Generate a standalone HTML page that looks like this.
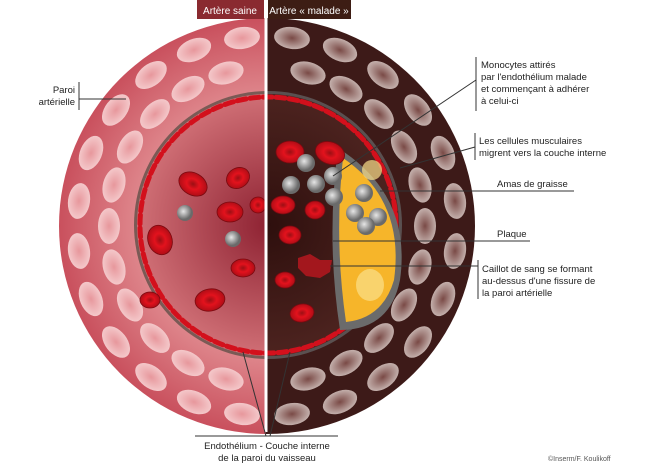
<!DOCTYPE html>
<html><head><meta charset="utf-8"><style>
body{margin:0;background:#fff;}
svg{display:block;font-family:"Liberation Sans",sans-serif;}
</style></head><body>
<svg width="650" height="464" viewBox="0 0 650 464" xmlns="http://www.w3.org/2000/svg" xmlns:xlink="http://www.w3.org/1999/xlink">
<defs>
<radialGradient id="ringL" cx="267" cy="226" r="208" gradientUnits="userSpaceOnUse">
<stop offset="0.6" stop-color="#e08a8f"/><stop offset="1" stop-color="#c9505d"/></radialGradient>
<radialGradient id="lumL" cx="268" cy="225" r="135" gradientUnits="userSpaceOnUse">
<stop offset="0" stop-color="#8e2232"/><stop offset="1" stop-color="#d27278"/></radialGradient>
<radialGradient id="lumR" cx="268" cy="225" r="135" gradientUnits="userSpaceOnUse">
<stop offset="0" stop-color="#2e0f0d"/><stop offset="1" stop-color="#4e2420"/></radialGradient>
<radialGradient id="cellL"><stop offset="0" stop-color="#e7979c"/><stop offset="1" stop-color="#f4c8ca"/></radialGradient>
<radialGradient id="cellR"><stop offset="0" stop-color="#7a4a46"/><stop offset="1" stop-color="#c4b0ac"/></radialGradient>
<radialGradient id="mono" cx="0.4" cy="0.4"><stop offset="0" stop-color="#e6e6e6"/><stop offset="1" stop-color="#6a6a6a"/></radialGradient>
<radialGradient id="rbc"><stop offset="0" stop-color="#9c0f14"/><stop offset="0.45" stop-color="#e3121d"/><stop offset="1" stop-color="#b00d16"/></radialGradient>
<clipPath id="cl"><rect x="0" y="0" width="266" height="464"/></clipPath>
<clipPath id="cr"><rect x="266" y="0" width="400" height="464"/></clipPath>
<g id="cells">
<ellipse cx="425" cy="226" rx="18" ry="11" transform="rotate(90 425 226)"/>
<ellipse cx="420" cy="267" rx="18" ry="11" transform="rotate(105 420 267)"/>
<ellipse cx="404" cy="305" rx="18" ry="11" transform="rotate(120 404 305)"/>
<ellipse cx="379" cy="338" rx="18" ry="11" transform="rotate(135 379 338)"/>
<ellipse cx="346" cy="363" rx="18" ry="11" transform="rotate(150 346 363)"/>
<ellipse cx="308" cy="379" rx="18" ry="11" transform="rotate(165 308 379)"/>
<ellipse cx="226" cy="379" rx="18" ry="11" transform="rotate(195 226 379)"/>
<ellipse cx="188" cy="363" rx="18" ry="11" transform="rotate(210 188 363)"/>
<ellipse cx="155" cy="338" rx="18" ry="11" transform="rotate(225 155 338)"/>
<ellipse cx="130" cy="305" rx="18" ry="11" transform="rotate(240 130 305)"/>
<ellipse cx="114" cy="267" rx="18" ry="11" transform="rotate(255 114 267)"/>
<ellipse cx="109" cy="226" rx="18" ry="11" transform="rotate(270 109 226)"/>
<ellipse cx="114" cy="185" rx="18" ry="11" transform="rotate(285 114 185)"/>
<ellipse cx="130" cy="147" rx="18" ry="11" transform="rotate(300 130 147)"/>
<ellipse cx="155" cy="114" rx="18" ry="11" transform="rotate(315 155 114)"/>
<ellipse cx="188" cy="89" rx="18" ry="11" transform="rotate(330 188 89)"/>
<ellipse cx="226" cy="73" rx="18" ry="11" transform="rotate(345 226 73)"/>
<ellipse cx="308" cy="73" rx="18" ry="11" transform="rotate(15 308 73)"/>
<ellipse cx="346" cy="89" rx="18" ry="11" transform="rotate(30 346 89)"/>
<ellipse cx="379" cy="114" rx="18" ry="11" transform="rotate(45 379 114)"/>
<ellipse cx="404" cy="147" rx="18" ry="11" transform="rotate(60 404 147)"/>
<ellipse cx="420" cy="185" rx="18" ry="11" transform="rotate(75 420 185)"/>
<ellipse cx="455" cy="251" rx="18" ry="11" transform="rotate(97.5 455 251)"/>
<ellipse cx="443" cy="299" rx="18" ry="11" transform="rotate(112.5 443 299)"/>
<ellipse cx="418" cy="342" rx="18" ry="11" transform="rotate(127.5 418 342)"/>
<ellipse cx="383" cy="377" rx="18" ry="11" transform="rotate(142.5 383 377)"/>
<ellipse cx="340" cy="402" rx="18" ry="11" transform="rotate(157.5 340 402)"/>
<ellipse cx="292" cy="414" rx="18" ry="11" transform="rotate(172.5 292 414)"/>
<ellipse cx="242" cy="414" rx="18" ry="11" transform="rotate(187.5 242 414)"/>
<ellipse cx="194" cy="402" rx="18" ry="11" transform="rotate(202.5 194 402)"/>
<ellipse cx="151" cy="377" rx="18" ry="11" transform="rotate(217.5 151 377)"/>
<ellipse cx="116" cy="342" rx="18" ry="11" transform="rotate(232.5 116 342)"/>
<ellipse cx="91" cy="299" rx="18" ry="11" transform="rotate(247.5 91 299)"/>
<ellipse cx="79" cy="251" rx="18" ry="11" transform="rotate(262.5 79 251)"/>
<ellipse cx="79" cy="201" rx="18" ry="11" transform="rotate(277.5 79 201)"/>
<ellipse cx="91" cy="153" rx="18" ry="11" transform="rotate(292.5 91 153)"/>
<ellipse cx="116" cy="110" rx="18" ry="11" transform="rotate(307.5 116 110)"/>
<ellipse cx="151" cy="75" rx="18" ry="11" transform="rotate(322.5 151 75)"/>
<ellipse cx="194" cy="50" rx="18" ry="11" transform="rotate(337.5 194 50)"/>
<ellipse cx="242" cy="38" rx="18" ry="11" transform="rotate(352.5 242 38)"/>
<ellipse cx="292" cy="38" rx="18" ry="11" transform="rotate(7.5 292 38)"/>
<ellipse cx="340" cy="50" rx="18" ry="11" transform="rotate(22.5 340 50)"/>
<ellipse cx="383" cy="75" rx="18" ry="11" transform="rotate(37.5 383 75)"/>
<ellipse cx="418" cy="110" rx="18" ry="11" transform="rotate(52.5 418 110)"/>
<ellipse cx="443" cy="153" rx="18" ry="11" transform="rotate(67.5 443 153)"/>
<ellipse cx="455" cy="201" rx="18" ry="11" transform="rotate(82.5 455 201)"/>
</g>
</defs>
<g clip-path="url(#cl)">
<circle cx="267" cy="226" r="208" fill="url(#ringL)"/>
<use xlink:href="#cells" href="#cells" fill="url(#cellL)"/>
<circle cx="268" cy="225" r="134" fill="#7a5a55"/>
<circle cx="268" cy="225" r="131" fill="url(#lumL)"/>
</g>
<g clip-path="url(#cr)">
<circle cx="267" cy="226" r="208" fill="#3d1a18"/>
<use xlink:href="#cells" href="#cells" fill="url(#cellR)"/>
<circle cx="268" cy="225" r="134" fill="#5a5050"/>
<circle cx="268" cy="225" r="131" fill="url(#lumR)"/>
</g>
<circle cx="268" cy="225" r="128" fill="none" stroke="#d3101c" stroke-width="5" stroke-dasharray="9 4" stroke-linecap="round"/>
<g clip-path="url(#cr)">
<path d="M338 148 Q412 195 400 280 Q390 330 340 330 Q326 240 338 148Z" fill="#6b6b6b"/>
<path d="M343 158 Q405 200 394 280 Q383 318 346 322 Q334 240 343 158Z" fill="#f6b52a"/>
<ellipse cx="372" cy="170" rx="10" ry="10" fill="#fbe08a" opacity="0.7"/>
<ellipse cx="370" cy="285" rx="14" ry="16" fill="#fbe08a" opacity="0.7"/>
<path d="M298 258 l12 -4 10 6 12 0 -2 12 -10 6 -14 -2 -8 -8z" fill="#a3171d"/>
</g>
<g fill="url(#rbc)" stroke="#7a0a10" stroke-width="0.8">
<ellipse cx="193" cy="184" rx="15" ry="11" transform="rotate(30 193 184)"/>
<ellipse cx="160" cy="240" rx="12" ry="15" transform="rotate(-20 160 240)"/>
<ellipse cx="238" cy="178" rx="12" ry="10" transform="rotate(-30 238 178)"/>
<ellipse cx="230" cy="212" rx="13" ry="10"/>
<ellipse cx="258" cy="205" rx="8" ry="8"/>
<ellipse cx="243" cy="268" rx="12" ry="9"/>
<ellipse cx="210" cy="300" rx="15" ry="11" transform="rotate(-10 210 300)"/>
<ellipse cx="150" cy="300" rx="10" ry="8"/>
<ellipse cx="290" cy="152" rx="14" ry="11"/>
<ellipse cx="330" cy="153" rx="15" ry="11" transform="rotate(20 330 153)"/>
<ellipse cx="283" cy="205" rx="12" ry="9"/>
<ellipse cx="290" cy="235" rx="11" ry="9"/>
<ellipse cx="315" cy="210" rx="10" ry="9"/>
<ellipse cx="302" cy="313" rx="12" ry="9" transform="rotate(-10 302 313)"/>
<ellipse cx="285" cy="280" rx="10" ry="8"/>
</g>
<g fill="url(#mono)">
<circle cx="185" cy="213" r="8"/><circle cx="233" cy="239" r="8"/>
<circle cx="306" cy="163" r="9"/><circle cx="291" cy="185" r="9"/><circle cx="316" cy="184" r="9"/><circle cx="333" cy="176" r="9"/><circle cx="334" cy="197" r="9"/>
<circle cx="364" cy="193" r="9"/><circle cx="355" cy="213" r="9"/><circle cx="378" cy="217" r="9"/><circle cx="366" cy="226" r="9"/>
</g>
<line x1="266" y1="0" x2="266" y2="432" stroke="#fff" stroke-width="3"/>
<rect x="197" y="0" width="67" height="19" fill="#8a2a30"/>
<rect x="268" y="0" width="83" height="19" fill="#3d1d14"/>
<text x="230" y="14" font-size="10" fill="#fff" text-anchor="middle">Artère saine</text>
<text x="309" y="14" font-size="10" fill="#fff" text-anchor="middle">Artère « malade »</text>
<g stroke="#333" stroke-width="1" fill="none">
<line x1="79" y1="82" x2="79" y2="110"/><line x1="79" y1="99" x2="126" y2="99"/>
<line x1="476" y1="57" x2="476" y2="111"/><line x1="476" y1="80" x2="333" y2="176"/>
<line x1="475" y1="133" x2="475" y2="160"/><line x1="475" y1="147" x2="400" y2="168"/>
<line x1="380" y1="191" x2="574" y2="191"/>
<line x1="333" y1="241" x2="530" y2="241"/>
<line x1="478" y1="260" x2="478" y2="299"/><line x1="330" y1="266" x2="478" y2="266"/>
<line x1="195" y1="436" x2="338" y2="436"/><line x1="266" y1="436" x2="243" y2="352"/><line x1="270" y1="436" x2="290" y2="352"/>
</g>
<g font-size="9.5" fill="#222">
<text x="75" y="93" text-anchor="end">Paroi</text><text x="75" y="105" text-anchor="end">artérielle</text>
<text x="481" y="68">Monocytes attirés</text><text x="481" y="80">par l'endothélium malade</text><text x="481" y="92">et commençant à adhérer</text><text x="481" y="104">à celui-ci</text>
<text x="479" y="144">Les cellules musculaires</text><text x="479" y="156">migrent vers la couche interne</text>
<text x="497" y="187">Amas de graisse</text>
<text x="497" y="237">Plaque</text>
<text x="482" y="272">Caillot de sang se formant</text><text x="482" y="284">au-dessus d'une fissure de</text><text x="482" y="296">la paroi artérielle</text>
<text x="267" y="449" text-anchor="middle">Endothélium - Couche interne</text><text x="267" y="461" text-anchor="middle">de la paroi du vaisseau</text>
<text x="548" y="461" font-size="7" fill="#555">©Inserm/F. Koulikoff</text>
</g>
</svg>
</body></html>
